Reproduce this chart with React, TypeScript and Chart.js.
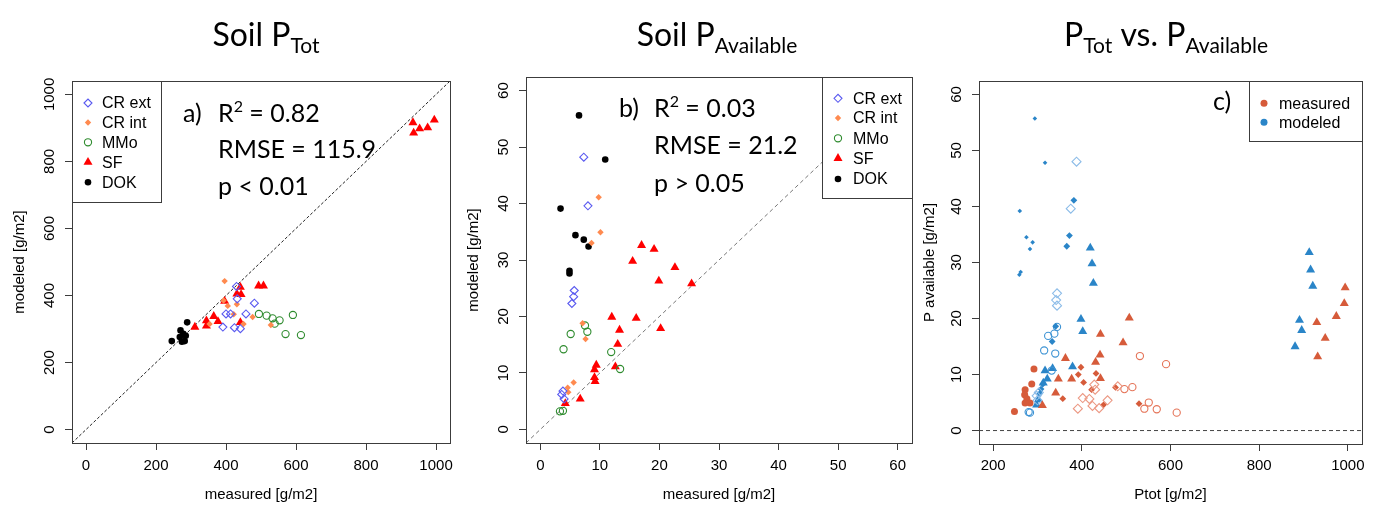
import React, { useEffect, useRef } from "react";
import { Chart, registerables } from "chart.js";

Chart.register(...registerables);

// ---------------- data ----------------
// Panel a) Soil P_Tot : measured (x) vs modeled (y), g/m2
const TOT_CREXT_MEAS = [430, 432, 481, 400, 413, 457, 391, 424, 441];
const TOT_CREXT_MOD = [427, 390, 377, 345, 345, 345, 306, 304, 301];
const TOT_CRINT_MEAS = [396, 393, 405, 431, 422, 476, 450, 528, 353];
const TOT_CRINT_MOD = [443, 385, 369, 374, 344, 336, 315, 312, 315];
const TOT_MMO_MEAS = [494, 516, 533, 553, 539, 591, 570, 614];
const TOT_MMO_MOD = [345, 340, 332, 326, 316, 342, 285, 282];
const TOT_SF_MEAS = [311, 344, 344, 365, 377, 396, 431, 441, 443, 441, 493, 507, 934, 936, 953, 976, 995];
const TOT_SF_MOD = [306, 325, 309, 338, 323, 383, 405, 425, 403, 320, 429, 429, 916, 885, 898, 901, 924];
const TOT_DOK_MEAS = [245, 270, 289, 278, 268, 282, 274, 285];
const TOT_DOK_MOD = [264, 296, 320, 286, 276, 264, 262, 280];

// Panel b) Soil P_Available : measured (x) vs modeled (y), g/m2
const AV_CREXT_MEAS = [7.3, 8.0, 5.7, 5.6, 5.3, 3.8, 4.0, 3.6];
const AV_CREXT_MOD = [48.2, 39.6, 24.6, 23.5, 22.3, 6.8, 5.4, 6.2];
const AV_CRINT_MEAS = [9.8, 10.1, 8.6, 7.1, 7.6, 5.6, 4.6, 4.7];
const AV_CRINT_MOD = [41.1, 34.9, 33.0, 18.8, 16.0, 8.3, 7.4, 6.6];
const AV_MMO_MEAS = [3.9, 5.1, 7.5, 7.9, 11.9, 13.4, 3.3, 3.8];
const AV_MMO_MOD = [14.2, 16.9, 18.4, 17.3, 13.7, 10.7, 3.2, 3.3];
const AV_SF_MEAS = [17.0, 19.1, 15.5, 22.6, 19.9, 25.4, 12.0, 16.1, 13.3, 20.2, 13.0, 9.4, 9.1, 9.1, 9.2, 12.6, 6.7, 4.2];
const AV_SF_MOD = [32.6, 31.9, 29.8, 28.7, 26.3, 25.8, 19.9, 19.7, 17.6, 17.9, 15.1, 11.4, 10.6, 9.2, 8.5, 11.1, 5.4, 4.6];
const AV_DOK_MEAS = [6.5, 10.9, 3.4, 5.9, 7.3, 8.1, 4.9, 4.9];
const AV_DOK_MOD = [55.6, 47.8, 39.1, 34.4, 33.6, 32.4, 28.1, 27.6];

// Panel c) P_Tot (x) vs P_Available (y)
const PC_MEAS_CREXT_X = [391, 424, 439, 458, 402, 417, 428, 430, 481];
const PC_MEAS_CREXT_Y = [3.9, 4.4, 4.0, 5.4, 5.8, 5.65, 8.2, 7.3, 7.9];
const PC_MEAS_CRINT_X = [398, 404, 432, 422, 357, 476, 529, 449, 392];
const PC_MEAS_CRINT_Y = [11.3, 8.6, 10.2, 7.3, 5.7, 7.7, 4.8, 4.6, 10.0];
const PC_MEAS_MMO_X = [531, 590, 496, 514, 541, 551, 569, 614];
const PC_MEAS_MMO_Y = [13.3, 11.85, 7.4, 7.75, 3.9, 5.0, 3.8, 3.2];
const PC_MEAS_SF_X = [507, 442, 493, 441, 431, 442, 363, 347, 377, 341, 311, 994, 992, 974, 930, 949, 932];
const PC_MEAS_SF_Y = [20.1, 17.2, 15.7, 13.5, 12.2, 9.3, 12.9, 9.2, 9.2, 6.7, 4.5, 25.5, 22.7, 20.4, 19.3, 16.5, 13.2];
const PC_MEAS_DOK_X = [248, 292, 287, 272, 271, 276, 272, 283];
const PC_MEAS_DOK_Y = [3.4, 11.0, 8.3, 7.3, 6.4, 5.7, 4.9, 4.9];
const PC_MOD_CREXT_X = [388, 375, 344, 342, 344, 303, 300, 298];
const PC_MOD_CREXT_Y = [48.0, 39.6, 24.5, 23.3, 22.3, 6.8, 5.4, 6.2];
const PC_MOD_CRINT_X = [382, 372, 366, 341, 333, 312, 308, 305];
const PC_MOD_CRINT_Y = [41.1, 34.8, 32.9, 18.6, 15.9, 8.3, 7.4, 6.6];
const PC_MOD_MMO_X = [315, 324, 344, 338, 340, 332, 280, 283];
const PC_MOD_MMO_Y = [14.3, 16.9, 18.5, 17.3, 13.75, 10.7, 3.3, 3.2];
const PC_MOD_SF_X = [419, 423, 426, 398, 402, 913, 916, 921, 891, 896, 881, 379, 334, 317, 322, 313, 302, 298];
const PC_MOD_SF_Y = [32.6, 29.8, 26.3, 19.9, 17.7, 31.8, 28.7, 25.8, 19.7, 17.9, 15.0, 11.4, 11.1, 10.7, 9.2, 8.5, 5.5, 4.6];
const PC_MOD_DOK_X = [294, 317, 260, 275, 289, 283, 262, 259];
const PC_MOD_DOK_Y = [55.7, 47.8, 39.2, 34.5, 33.6, 32.4, 28.3, 27.8];

// ticks & labels
const TOT_TICKS = [0, 200, 400, 600, 800, 1000];
const AV_TICKS = [0, 10, 20, 30, 40, 50, 60];
const PTOT_TICKS = [200, 400, 600, 800, 1000];
const TREATMENTS = ["CR ext", "CR int", "MMo", "SF", "DOK"];
const GROUPS = ["measured", "modeled"];
const STATS_A = ["0.82", "RMSE = 115.9", "p < 0.01"];
const STATS_B = ["0.03", "RMSE = 21.2", "p > 0.05"];

// ---------------- styling ----------------
const H = 505;
const AXIS_FONT = "'Liberation Sans', Arial, sans-serif";
const NOTE_FONT = "Lato, 'Noto Sans', sans-serif";
const TICK_SIZE = 15;
const LEGEND_SIZE = 16;
const TICK_LEN = 7;
const Y_LABEL_GAP = 22;
const FRAME = "#3c3c3c";

type Sty = { pointStyle: string; radius: number; fill: boolean; color: string };

const TREAT_STYLE: Record<string, Sty> = {
  "CR ext": { pointStyle: "rectRot", radius: 4, fill: false, color: "#5a5af0" },
  "CR int": { pointStyle: "rectRot", radius: 3.2, fill: true, color: "#ff8a4f" },
  MMo: { pointStyle: "circle", radius: 3.6, fill: false, color: "#2e8b2e" },
  SF: { pointStyle: "triangle", radius: 5.2, fill: true, color: "#ff0000" },
  DOK: { pointStyle: "circle", radius: 3.3, fill: true, color: "#000000" },
};

const MEAS = "#d65b3a";
const MEAS_LIGHT = "#ec9883";
const MOD = "#2a85c8";
const MOD_LIGHT = "#8cbce8";

const C_STYLE: Record<string, Sty> = {
  measCrExt: { pointStyle: "rectRot", radius: 4.5, fill: false, color: MEAS_LIGHT },
  measCrInt: { pointStyle: "rectRot", radius: 3.4, fill: true, color: MEAS },
  measMMo: { pointStyle: "circle", radius: 3.6, fill: false, color: "#e57458" },
  measSF: { pointStyle: "triangle", radius: 5.2, fill: true, color: MEAS },
  measDOK: { pointStyle: "circle", radius: 3.5, fill: true, color: MEAS },
  modCrExt: { pointStyle: "rectRot", radius: 4.5, fill: false, color: MOD_LIGHT },
  modCrInt: { pointStyle: "rectRot", radius: 3.4, fill: true, color: MOD },
  modMMo: { pointStyle: "circle", radius: 3.6, fill: false, color: "#3d93d4" },
  modSF: { pointStyle: "triangle", radius: 5.2, fill: true, color: MOD },
  modDOK: { pointStyle: "rectRot", radius: 2.3, fill: true, color: MOD },
};

const pts = (xs: number[], ys: number[]) => xs.map((x, i) => ({ x, y: ys[i] }));

function scatterSet(label: string, data: { x: number; y: number }[], st: Sty) {
  return {
    type: "scatter",
    label,
    data,
    showLine: false,
    pointStyle: st.pointStyle,
    pointRadius: st.radius,
    pointHoverRadius: st.radius,
    pointBackgroundColor: st.fill ? st.color : "rgba(0,0,0,0)",
    pointBorderColor: st.color,
    pointBorderWidth: st.fill ? 0 : 1.1,
  };
}

function refLine(data: { x: number; y: number }[], color: string, dash: number[]) {
  return {
    type: "scatter",
    label: "",
    data,
    showLine: true,
    borderColor: color,
    borderWidth: 1,
    borderDash: dash,
    pointRadius: 0,
    pointHoverRadius: 0,
    clip: 0,
  };
}

type Area = { left: number; right: number; top: number; bottom: number };
type TextPart = { t: string; size: number; dy?: number };
type TextItem = { parts: TextPart[]; x: number; y: number; align: "left" | "center" };
type LegendSpec = {
  box: Area;
  symX: number;
  textX: number;
  rowY: number[];
  items: { label: string; st: Sty }[];
};
type Spec = {
  left: number;
  width: number;
  area: Area;
  xRange: [number, number];
  yRange: [number, number];
  xTicks: number[];
  yTicks: number[];
  xTitle: string;
  yTitle: string;
  yTitleX: number;
  datasets: any[];
  legend: LegendSpec;
  texts: TextItem[];
};

function markerPath(ctx: CanvasRenderingContext2D, style: string, x: number, y: number, r: number) {
  ctx.beginPath();
  if (style === "circle") {
    ctx.arc(x, y, r, 0, Math.PI * 2);
  } else if (style === "rectRot") {
    ctx.moveTo(x - r, y);
    ctx.lineTo(x, y - r);
    ctx.lineTo(x + r, y);
    ctx.lineTo(x, y + r);
    ctx.closePath();
  } else if (style === "triangle") {
    let a = 0;
    ctx.moveTo(x + Math.sin(a) * r, y - Math.cos(a) * r);
    a += (2 * Math.PI) / 3;
    ctx.lineTo(x + Math.sin(a) * r, y - Math.cos(a) * r);
    a += (2 * Math.PI) / 3;
    ctx.lineTo(x + Math.sin(a) * r, y - Math.cos(a) * r);
    ctx.closePath();
  }
}

function drawParts(ctx: CanvasRenderingContext2D, item: TextItem) {
  let total = 0;
  const widths = item.parts.map((p) => {
    ctx.font = `${p.size}px ${NOTE_FONT}`;
    const w = ctx.measureText(p.t).width;
    total += w;
    return w;
  });
  let x = item.align === "center" ? item.x - total / 2 : item.x;
  item.parts.forEach((p, i) => {
    ctx.font = `${p.size}px ${NOTE_FONT}`;
    ctx.fillText(p.t, x, item.y + (p.dy || 0));
    x += widths[i];
  });
}

function buildConfig(spec: Spec): any {
  const a = spec.area;
  const m = document.createElement("canvas").getContext("2d")!;
  m.font = `${TICK_SIZE}px ${AXIS_FONT}`;
  const widest = Math.max(...spec.yTicks.map((v) => m.measureText(String(v)).width));
  const yTickPad = Y_LABEL_GAP - TICK_LEN - widest / 2;
  const lh = TICK_SIZE * 1.2;

  const overlay = {
    id: "overlay",
    afterDatasetsDraw(chart: any) {
      const ctx: CanvasRenderingContext2D = chart.ctx;
      const L = spec.legend;
      ctx.save();
      ctx.fillStyle = "#ffffff";
      ctx.fillRect(L.box.left, L.box.top, L.box.right - L.box.left, L.box.bottom - L.box.top);
      ctx.strokeStyle = FRAME;
      ctx.lineWidth = 1;
      ctx.strokeRect(L.box.left + 0.5, L.box.top + 0.5, L.box.right - L.box.left, L.box.bottom - L.box.top);
      L.items.forEach((it, i) => {
        const y = L.rowY[i];
        markerPath(ctx, it.st.pointStyle, L.symX, y, it.st.radius);
        if (it.st.fill) {
          ctx.fillStyle = it.st.color;
          ctx.fill();
        } else {
          ctx.strokeStyle = it.st.color;
          ctx.lineWidth = 1.1;
          ctx.stroke();
        }
        ctx.fillStyle = "#000";
        ctx.font = `${LEGEND_SIZE}px ${AXIS_FONT}`;
        ctx.textBaseline = "middle";
        ctx.textAlign = "left";
        ctx.fillText(it.label, L.textX, y + 1);
      });
      ctx.restore();
    },
    afterDraw(chart: any) {
      const ctx: CanvasRenderingContext2D = chart.ctx;
      const ca = chart.chartArea;
      ctx.save();
      ctx.strokeStyle = FRAME;
      ctx.lineWidth = 1;
      ctx.strokeRect(Math.round(ca.left) + 0.5, Math.round(ca.top) + 0.5, Math.round(ca.right - ca.left), Math.round(ca.bottom - ca.top));
      ctx.fillStyle = "#000";
      ctx.textBaseline = "alphabetic";
      ctx.textAlign = "left";
      spec.texts.forEach((t) => drawParts(ctx, t));
      ctx.restore();
    },
  };

  const common = (ticks: number[]) => ({
    type: "linear",
    afterBuildTicks: (s: any) => {
      s.ticks = ticks.map((v) => ({ value: v }));
    },
    grid: {
      display: true,
      drawOnChartArea: false,
      drawTicks: true,
      tickLength: TICK_LEN,
      tickColor: FRAME,
      color: FRAME,
    },
    border: { display: true, color: FRAME, width: 1 },
  });

  const plainLabel = (v: any) => String(v);

  return {
    type: "scatter",
    data: { datasets: spec.datasets },
    plugins: [overlay],
    options: {
      animation: false,
      responsive: false,
      maintainAspectRatio: false,
      events: [],
      layout: { padding: { left: 0, right: spec.width - a.right, top: a.top, bottom: 0 } },
      plugins: { legend: { display: false }, tooltip: { enabled: false } },
      scales: {
        x: {
          ...common(spec.xTicks),
          position: "bottom",
          min: spec.xRange[0],
          max: spec.xRange[1],
          afterFit: (s: any) => {
            s.height = H - a.bottom;
          },
          ticks: {
            color: "#000",
            font: { family: AXIS_FONT, size: TICK_SIZE },
            padding: 466 - a.bottom - TICK_LEN - lh / 2,
            autoSkip: false,
            minRotation: 0,
            maxRotation: 0,
            callback: plainLabel,
          },
          title: {
            display: true,
            text: spec.xTitle,
            color: "#000",
            font: { family: AXIS_FONT, size: TICK_SIZE },
            padding: { top: 0, bottom: H - 495 - lh / 2 },
          },
        },
        y: {
          ...common(spec.yTicks),
          position: "left",
          min: spec.yRange[0],
          max: spec.yRange[1],
          afterFit: (s: any) => {
            s.width = a.left;
          },
          ticks: {
            color: "#000",
            font: { family: AXIS_FONT, size: TICK_SIZE },
            padding: yTickPad,
            autoSkip: false,
            minRotation: 90,
            maxRotation: 90,
            crossAlign: "center",
            callback: plainLabel,
          },
          title: {
            display: true,
            text: spec.yTitle,
            color: "#000",
            font: { family: AXIS_FONT, size: TICK_SIZE },
            padding: { top: spec.yTitleX - lh / 2, bottom: 0 },
          },
        },
      },
    },
  };
}

const treatLegendItems = TREATMENTS.map((t) => ({ label: t, st: TREAT_STYLE[t] }));

const SPECS: Spec[] = [
  {
    left: 0,
    width: 460,
    area: { left: 72, right: 453, top: 81, bottom: 443 },
    xRange: [-40, 1040],
    yRange: [-40, 1040],
    xTicks: TOT_TICKS,
    yTicks: TOT_TICKS,
    xTitle: "measured [g/m2]",
    yTitle: "modeled [g/m2]",
    yTitleX: 20,
    datasets: [
      scatterSet("CR ext", pts(TOT_CREXT_MEAS, TOT_CREXT_MOD), TREAT_STYLE["CR ext"]),
      scatterSet("CR int", pts(TOT_CRINT_MEAS, TOT_CRINT_MOD), TREAT_STYLE["CR int"]),
      scatterSet("MMo", pts(TOT_MMO_MEAS, TOT_MMO_MOD), TREAT_STYLE.MMo),
      scatterSet("SF", pts(TOT_SF_MEAS, TOT_SF_MOD), TREAT_STYLE.SF),
      scatterSet("DOK", pts(TOT_DOK_MEAS, TOT_DOK_MOD), TREAT_STYLE.DOK),
      refLine([{ x: -40, y: -40 }, { x: 1040, y: 1040 }], "#222222", [3, 2]),
    ],
    legend: {
      box: { left: 72, top: 81, right: 161, bottom: 202 },
      symX: 88,
      textX: 102,
      rowY: [103, 122.5, 142.3, 162.2, 182.2],
      items: treatLegendItems,
    },
    texts: [
      { parts: [{ t: "Soil P", size: 32 }, { t: "Tot", size: 21, dy: 7 }], x: 266, y: 46, align: "center" },
      { parts: [{ t: "a)", size: 25 }], x: 183, y: 121.5, align: "left" },
      { parts: [{ t: "R", size: 25 }, { t: "2", size: 16, dy: -10 }, { t: " = " + STATS_A[0], size: 25 }], x: 218, y: 121.5, align: "left" },
      { parts: [{ t: STATS_A[1], size: 25 }], x: 218, y: 158, align: "left" },
      { parts: [{ t: STATS_A[2], size: 25 }], x: 218, y: 195, align: "left" },
    ],
  },
  {
    left: 460,
    width: 460,
    area: { left: 66, right: 452, top: 77, bottom: 443 },
    xRange: [-2.4, 62.4],
    yRange: [-2.4, 62.4],
    xTicks: AV_TICKS,
    yTicks: AV_TICKS,
    xTitle: "measured [g/m2]",
    yTitle: "modeled [g/m2]",
    yTitleX: 14,
    datasets: [
      scatterSet("CR ext", pts(AV_CREXT_MEAS, AV_CREXT_MOD), TREAT_STYLE["CR ext"]),
      scatterSet("CR int", pts(AV_CRINT_MEAS, AV_CRINT_MOD), TREAT_STYLE["CR int"]),
      scatterSet("MMo", pts(AV_MMO_MEAS, AV_MMO_MOD), TREAT_STYLE.MMo),
      scatterSet("SF", pts(AV_SF_MEAS, AV_SF_MOD), TREAT_STYLE.SF),
      scatterSet("DOK", pts(AV_DOK_MEAS, AV_DOK_MOD), TREAT_STYLE.DOK),
      refLine([{ x: -2.4, y: -2.4 }, { x: 62.4, y: 62.4 }], "#777777", [4, 3]),
    ],
    legend: {
      box: { left: 362, top: 77, right: 452, bottom: 198 },
      symX: 378,
      textX: 393,
      rowY: [98.3, 118, 138.3, 158.3, 179],
      items: treatLegendItems,
    },
    texts: [
      { parts: [{ t: "Soil P", size: 32 }, { t: "Available", size: 21, dy: 7 }], x: 257, y: 46, align: "center" },
      { parts: [{ t: "b)", size: 25 }], x: 159, y: 117.3, align: "left" },
      { parts: [{ t: "R", size: 25 }, { t: "2", size: 16, dy: -10 }, { t: " = " + STATS_B[0], size: 25 }], x: 194, y: 117.3, align: "left" },
      { parts: [{ t: STATS_B[1], size: 25 }], x: 194, y: 154, align: "left" },
      { parts: [{ t: STATS_B[2], size: 25 }], x: 194, y: 191.7, align: "left" },
    ],
  },
  {
    left: 920,
    width: 458,
    area: { left: 59, right: 442, top: 81, bottom: 444 },
    xRange: [168, 1032],
    yRange: [-2.4, 62.4],
    xTicks: PTOT_TICKS,
    yTicks: AV_TICKS,
    xTitle: "Ptot [g/m2]",
    yTitle: "P available [g/m2]",
    yTitleX: 10,
    datasets: [
      scatterSet("measured CR ext", pts(PC_MEAS_CREXT_X, PC_MEAS_CREXT_Y), C_STYLE.measCrExt),
      scatterSet("measured CR int", pts(PC_MEAS_CRINT_X, PC_MEAS_CRINT_Y), C_STYLE.measCrInt),
      scatterSet("measured MMo", pts(PC_MEAS_MMO_X, PC_MEAS_MMO_Y), C_STYLE.measMMo),
      scatterSet("measured SF", pts(PC_MEAS_SF_X, PC_MEAS_SF_Y), C_STYLE.measSF),
      scatterSet("measured DOK", pts(PC_MEAS_DOK_X, PC_MEAS_DOK_Y), C_STYLE.measDOK),
      scatterSet("modeled CR ext", pts(PC_MOD_CREXT_X, PC_MOD_CREXT_Y), C_STYLE.modCrExt),
      scatterSet("modeled CR int", pts(PC_MOD_CRINT_X, PC_MOD_CRINT_Y), C_STYLE.modCrInt),
      scatterSet("modeled MMo", pts(PC_MOD_MMO_X, PC_MOD_MMO_Y), C_STYLE.modMMo),
      scatterSet("modeled SF", pts(PC_MOD_SF_X, PC_MOD_SF_Y), C_STYLE.modSF),
      scatterSet("modeled DOK", pts(PC_MOD_DOK_X, PC_MOD_DOK_Y), C_STYLE.modDOK),
      refLine([{ x: 168, y: 0 }, { x: 1032, y: 0 }], "#444444", [4, 3]),
    ],
    legend: {
      box: { left: 329, top: 81, right: 442, bottom: 141 },
      symX: 344,
      textX: 359,
      rowY: [103.3, 122.3],
      items: [
        { label: GROUPS[0], st: { pointStyle: "circle", radius: 3.5, fill: true, color: MEAS } },
        { label: GROUPS[1], st: { pointStyle: "circle", radius: 3.5, fill: true, color: MOD } },
      ],
    },
    texts: [
      {
        parts: [
          { t: "P", size: 32 },
          { t: "Tot", size: 21, dy: 7 },
          { t: " vs. P", size: 32 },
          { t: "Available", size: 21, dy: 7 },
        ],
        x: 246,
        y: 46,
        align: "center",
      },
      { parts: [{ t: "c)", size: 25 }], x: 293, y: 110, align: "left" },
    ],
  },
];

function Panel({ spec }: { spec: Spec }) {
  const ref = useRef<HTMLCanvasElement | null>(null);
  useEffect(() => {
    if (!ref.current) return;
    const chart = new Chart(ref.current, buildConfig(spec));
    return () => chart.destroy();
  }, [spec]);
  return (
    <canvas
      ref={ref}
      width={spec.width}
      height={H}
      style={{ position: "absolute", left: spec.left, top: 0, width: spec.width, height: H }}
    />
  );
}

export default function App() {
  return (
    <div style={{ position: "absolute", left: 0, top: 0, width: 1378, height: H, background: "#ffffff", overflow: "hidden" }}>
      {SPECS.map((s, i) => (
        <Panel key={i} spec={s} />
      ))}
    </div>
  );
}
